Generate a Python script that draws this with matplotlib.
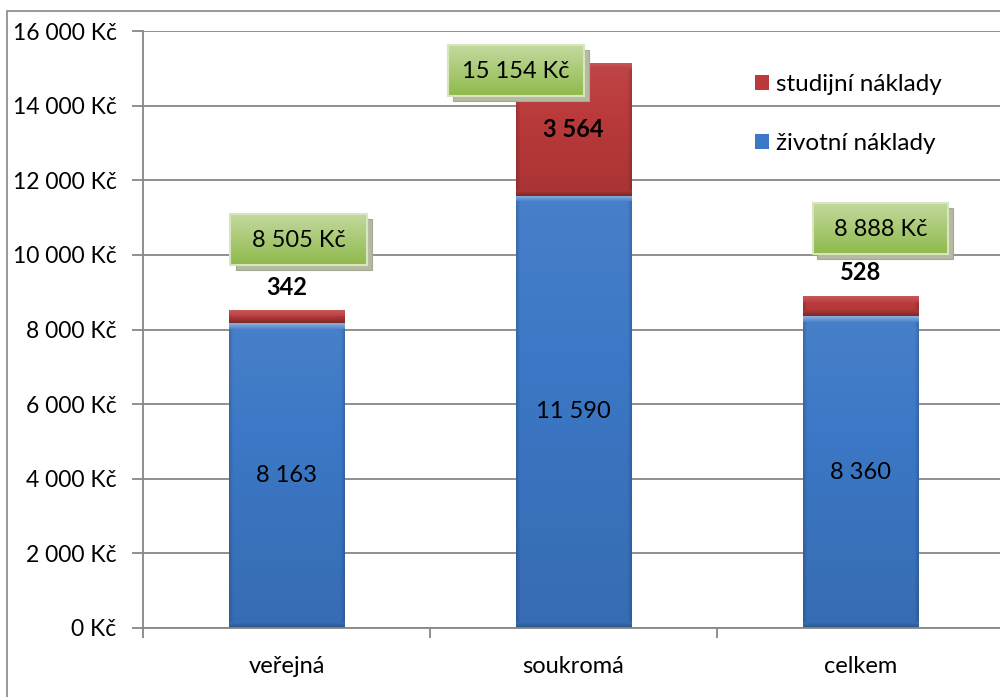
import numpy as np
import matplotlib
matplotlib.use("Agg")
import matplotlib.pyplot as plt
from matplotlib.patches import Rectangle
from matplotlib.colors import to_rgb

plt.rcParams['font.family'] = ['Lato', 'DejaVu Sans']

categories = ["veřejná", "soukromá", "celkem"]
zivotni = [8163, 11590, 8360]
studijni = [342, 3564, 528]
totals = [8505, 15154, 8888]
series_names = ["studijní náklady", "životní náklady"]
yticks = [0, 2000, 4000, 6000, 8000, 10000, 12000, 14000, 16000]

def fmt(v):
    return f"{v:,}".replace(",", " ")

FS = 17
W, H = 1000, 697
fig = plt.figure(figsize=(W / 100, H / 100), dpi=100)
ax = fig.add_axes([143 / W, 1 - 628 / H, 861 / W, (628 - 31) / H])

x = np.arange(len(categories))
bw = 0.404
blue = "#3c78c6"
red = "#bb3a3b"
grid_c = "#878787"

ax.set_xlim(-0.5, len(categories) - 0.5)
ax.set_ylim(0, 16000)
ax.set_yticks(yticks)
ax.set_yticklabels([fmt(v) + " Kč" for v in yticks], fontsize=FS - 0.5)
ax.set_xticks(x)
ax.set_xticklabels(categories, fontsize=FS)
ax.set_xticks(np.arange(len(categories) + 1) - 0.5, minor=True)
ax.tick_params(axis='x', which='major', length=0, pad=20)
ax.tick_params(axis='x', which='minor', length=7, color=grid_c, width=1.3)
ax.tick_params(axis='y', length=8, color=grid_c, width=1.3, pad=11)
for s in ["top", "right"]:
    ax.spines[s].set_visible(False)
for s in ["left", "bottom"]:
    ax.spines[s].set_color(grid_c)
    ax.spines[s].set_linewidth(1.3)
ax.grid(axis='y', color=grid_c, linewidth=1.3)
ax.set_axisbelow(True)

b1 = ax.bar(x, zivotni, bw, color=blue, label=series_names[1], zorder=2)
b2 = ax.bar(x, studijni, bw, bottom=zivotni, color=red, label=series_names[0], zorder=2)

def shade(c, f):
    r = np.array(to_rgb(c))
    if f >= 0:
        return r + (1 - r) * f
    return r * (1 + f)

fig.canvas.draw()
to_data = ax.transData.inverted()
px_y = 16000 / (628 - 31)

def bevel(patch, base, top_light, bot_dark):
    x0, y0 = patch.get_x(), patch.get_y()
    w, h = patch.get_width(), patch.get_height()
    npx_h = max(int(round(h / px_y)), 2)
    npx_w = 116
    img = np.zeros((npx_h, npx_w, 3))
    for i in range(npx_h):
        t = i / max(npx_h - 1, 1)
        img[i, :] = shade(base, 0.06 * (1 - t) - 0.1 * t)
    bv = min(6, npx_h // 2)
    for i in range(bv):
        img[i, :] = shade(base, top_light * (1 - i / (bv + 1)))
        img[npx_h - 1 - i, :] = shade(base, -bot_dark * (1 - i / (bv + 1)))
    for j in range(4):
        f = -0.15 * (1 - j / 4)
        img[bv:npx_h - bv, j] = img[bv:npx_h - bv, j] * (1 + f)
        img[bv:npx_h - bv, npx_w - 1 - j] = img[bv:npx_h - bv, npx_w - 1 - j] * (1 + f)
    img = np.clip(img, 0, 1)
    ax.imshow(img, extent=(x0, x0 + w, y0, y0 + h), aspect='auto',
              interpolation='bilinear', zorder=2.5, origin='upper')

for p in b1:
    bevel(p, blue, 0.4, 0.3)
for p in b2:
    bevel(p, red, 0.15, 0.3)
ax.set_xlim(-0.5, len(categories) - 0.5)
ax.set_ylim(0, 16000)

for xi, v in zip(x, zivotni):
    ax.text(xi, v / 2, fmt(v), ha='center', va='center', fontsize=FS, zorder=5)

for xi, z, s in zip(x, zivotni, studijni):
    if s > 2000:
        ax.text(xi, z + s / 2, fmt(s), ha='center', va='center', fontsize=FS,
                fontweight='bold', zorder=5)
    else:
        ax.annotate(fmt(s), (xi, z + s), xytext=(0, 17), textcoords='offset points',
                    ha='center', va='center', fontsize=FS, fontweight='bold', zorder=5)

box_off = [(12, 71), (-58, -8), (20, 68)]
bw_px, bh_px = 136, 51
for xi, t, (dx, dy) in zip(x, totals, box_off):
    cx_disp, cy_disp = ax.transData.transform((xi, t))
    cx, cy = cx_disp + dx, cy_disp + dy
    sx0, sy0 = to_data.transform((cx - bw_px / 2 + 5, cy - bh_px / 2 - 5))
    sx1, sy1 = to_data.transform((cx + bw_px / 2 + 5, cy + bh_px / 2 - 5))
    ax.add_patch(Rectangle((sx0, sy0), sx1 - sx0, sy1 - sy0, facecolor="#b6b9a3",
                           edgecolor="#a4a88f", lw=0.8, zorder=6, clip_on=False))
    x0, y0 = to_data.transform((cx - bw_px / 2, cy - bh_px / 2))
    x1, y1 = to_data.transform((cx + bw_px / 2, cy + bh_px / 2))
    grad = np.linspace(0, 1, 50)[:, None, None]
    c_top = np.array(to_rgb("#c4d99f"))
    c_bot = np.array(to_rgb("#8fba4c"))
    gimg = c_top * (1 - grad) + c_bot * grad
    gimg = np.repeat(gimg, 2, axis=1)
    ax.imshow(gimg, extent=(x0, x1, y0, y1), aspect='auto', interpolation='bilinear',
              zorder=7, origin='upper', clip_on=False)
    ax.add_patch(Rectangle((x0, y0), x1 - x0, y1 - y0, facecolor='none',
                           edgecolor="#d7e6bf", lw=1.5, zorder=8, clip_on=False))
    xm, ym = to_data.transform((cx, cy - 1))
    ax.text(xm, ym, fmt(t) + " Kč", ha='center', va='center', fontsize=FS, zorder=9)

ax.set_xlim(-0.5, len(categories) - 0.5)
ax.set_ylim(0, 16000)

handles = [b2, b1]
leg = fig.legend(handles, series_names, loc='upper left', bbox_to_anchor=(748 / W, 1 - 67 / H),
                 frameon=False, fontsize=FS + 0.5, handlelength=0.55, handleheight=0.55,
                 handletextpad=0.3, labelspacing=1.55, borderaxespad=0, borderpad=0.3)

fig.add_artist(Rectangle((7 / W, -0.1), 1.2, 1.1 - 11 / H, transform=fig.transFigure,
                         facecolor='none', edgecolor=grid_c, lw=1.2))

fig.savefig("out.png", dpi=100)
